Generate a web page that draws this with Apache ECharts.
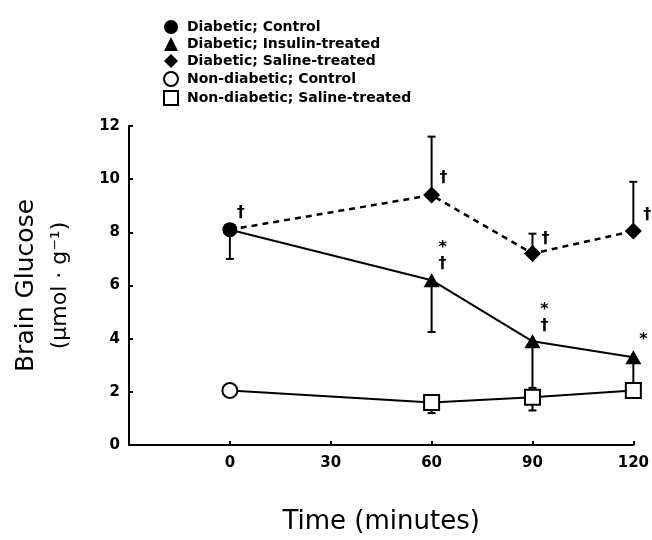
<!DOCTYPE html>
<html>
<head>
<meta charset="utf-8">
<script src="https://cdn.jsdelivr.net/npm/echarts@6/dist/echarts.min.js"></script>
<style>html,body{margin:0;padding:0;background:#fff;}#c{width:652px;height:540px;}</style>
</head>
<body>
<div id="c"></div>
<script>
// ---- data ----
const times = [0, 60, 90, 120];
const xTickLabels = ['0', '30', '60', '90', '120'];
const diabeticControl = [8.1];
const diabeticControlErr = [7.0];
const diabeticInsulin = [8.1, 6.2, 3.9, 3.3];
const diabeticInsulinErr = [null, 4.25, 2.15, 1.9];
const diabeticSaline = [8.1, 9.4, 7.2, 8.05];
const diabeticSalineErr = [null, 11.6, 7.95, 9.9];
const nonDiabeticControl = [2.05];
const nonDiabeticSaline = [2.05, 1.6, 1.8, 2.05];
const nonDiabeticSalineErr = [null, 1.2, 1.3, 1.85];
const controlMarks = ['†'];
const insulinMarks = ['', '*\n†', '*\n†', '*'];
const salineMarks = ['', '†', '†', '†'];
const seriesNames = ['Diabetic; Control', 'Diabetic; Insulin-treated', 'Diabetic; Saline-treated',
  'Non-diabetic; Control', 'Non-diabetic; Saline-treated'];

// ---- styles ----
const FONT = 'DejaVu Sans';
const markLabel = (text, off) => ({
  show: !!text, formatter: text, position: 'inside', offset: off,
  color: '#000', fontFamily: FONT, fontWeight: 'bold', fontSize: 16, lineHeight: 16
});
const insulinOffsets = [[0,0],[11,-24],[12,-23],[10,-17]];
const salineOffsets = [[0,0],[12,-17],[13,-15],[14,-16]];

function lineData(vals, marks, offsets) {
  return vals.map((v, i) => {
    const item = { value: [times[i], v] };
    if (i === 0 && vals.length > 1) item.symbol = 'none';
    if (marks && marks[i]) item.label = markLabel(marks[i], offsets[i]);
    return item;
  });
}
function errSeries(vals, errs) {
  const data = [];
  vals.forEach((v, i) => { if (errs[i] != null) data.push([times[i], v, errs[i]]); });
  return {
    type: 'custom', z: 1, silent: true, encode: { x: 0, y: [1, 2] }, data,
    renderItem: (params, api) => {
      const p0 = api.coord([api.value(0), api.value(1)]);
      const p1 = api.coord([api.value(0), api.value(2)]);
      return { type: 'group', children: [
        { type: 'line', shape: { x1: p0[0], y1: p0[1], x2: p1[0], y2: p1[1] }, style: { stroke: '#000', lineWidth: 2 } },
        { type: 'line', shape: { x1: p1[0] - 4, y1: p1[1], x2: p1[0] + 4, y2: p1[1] }, style: { stroke: '#000', lineWidth: 2 } }
      ]};
    }
  };
}

const chart = echarts.init(document.getElementById('c'), null, { renderer: 'canvas' });
const hollow = { color: '#fff', borderColor: '#000', borderWidth: 2 };
chart.setOption({
  animation: false,
  backgroundColor: '#fff',
  grid: { left: 129, right: 16, top: 126, bottom: 93, containLabel: false },
  legend: {
    orient: 'vertical', left: 158, top: 15, itemWidth: 14, itemHeight: 14, itemGap: 3,
    selectedMode: false,
    textStyle: { fontFamily: FONT, fontWeight: 'bold', fontSize: 14, color: '#000', padding: [0, 0, 0, 4] },
    data: [
      { name: seriesNames[0], icon: 'circle', itemStyle: { color: '#000' } },
      { name: seriesNames[1], icon: 'triangle', itemStyle: { color: '#000' } },
      { name: seriesNames[2], icon: 'diamond', itemStyle: { color: '#000' } },
      { name: seriesNames[3], icon: 'circle', itemStyle: hollow },
      { name: seriesNames[4], icon: 'rect', itemStyle: hollow }
    ]
  },
  xAxis: {
    type: 'value', min: -30, max: 120, interval: 30,
    name: 'Time (minutes)', nameLocation: 'middle', nameGap: 64,
    nameTextStyle: { fontFamily: FONT, fontSize: 26, color: '#000' },
    axisLine: { lineStyle: { color: '#000', width: 2 } },
    axisTick: { inside: true, length: 4, lineStyle: { color: '#000', width: 2 } },
    axisLabel: { fontFamily: FONT, fontWeight: 'bold', fontSize: 15, color: '#000', margin: 11,
      formatter: v => xTickLabels.indexOf(String(v)) >= 0 ? String(v) : '' },
    splitLine: { show: false }
  },
  yAxis: {
    type: 'value', min: 0, max: 12, interval: 2,
    name: '{a|Brain Glucose}\n{b|(μmol · g⁻¹)}', nameLocation: 'middle', nameRotate: 90, nameGap: 55,
    nameTextStyle: { color: '#000', rich: {
      a: { fontFamily: FONT, fontSize: 25, lineHeight: 40, color: '#000' },
      b: { fontFamily: FONT, fontSize: 22, lineHeight: 28, color: '#000' } } },
    axisLine: { show: true, onZero: false, lineStyle: { color: '#000', width: 2 } },
    axisTick: { show: true, inside: true, length: 4, lineStyle: { color: '#000', width: 2 } },
    axisLabel: { fontFamily: FONT, fontWeight: 'bold', fontSize: 15, color: '#000', margin: 9 },
    splitLine: { show: false }
  },
  series: [
    errSeries(diabeticControl, diabeticControlErr),
    errSeries(diabeticInsulin, diabeticInsulinErr),
    errSeries(diabeticSaline, diabeticSalineErr),
    errSeries(nonDiabeticSaline, nonDiabeticSalineErr),
    { name: seriesNames[2], type: 'line', z: 3, color: '#000',
      data: lineData(diabeticSaline, salineMarks, salineOffsets),
      symbol: 'diamond', symbolSize: 17, itemStyle: { color: '#000' },
      lineStyle: { color: '#000', width: 2.5, type: [6, 5] } },
    { name: seriesNames[1], type: 'line', z: 3, color: '#000',
      data: lineData(diabeticInsulin, insulinMarks, insulinOffsets),
      symbol: 'triangle', symbolSize: [16, 14], itemStyle: { color: '#000' },
      lineStyle: { color: '#000', width: 2 } },
    { name: seriesNames[4], type: 'line', z: 3, color: '#000',
      data: lineData(nonDiabeticSaline),
      symbol: 'rect', symbolSize: 15, itemStyle: hollow,
      lineStyle: { color: '#000', width: 2 } },
    { name: seriesNames[0], type: 'line', z: 4, color: '#000',
      data: lineData(diabeticControl, controlMarks, [[11,-17]]),
      symbol: 'circle', symbolSize: 15, itemStyle: { color: '#000' } },
    { name: seriesNames[3], type: 'line', z: 4, color: '#000',
      data: lineData(nonDiabeticControl),
      symbol: 'circle', symbolSize: 15, itemStyle: hollow }
  ]
});
</script>
</body>
</html>
